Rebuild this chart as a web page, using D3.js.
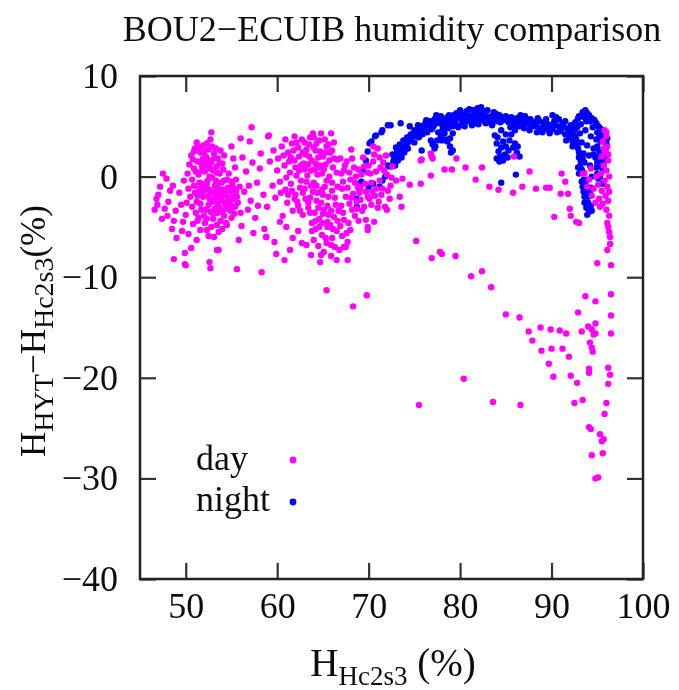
<!DOCTYPE html>
<html>
<head>
  <meta charset="UTF-8">
  <title>BOU2-ECUIB humidity comparison</title>
  <script src="https://d3js.org/d3.v7.min.js"></script>
  <style>
    body { margin: 0; background: #fff; }
    text { font-family: "Liberation Serif", "DejaVu Serif", serif; fill: #111; }
  </style>
</head>
<body>
<svg id="chart"></svg>
<script>
// ---- data: [H_Hc2s3 (%), H_HYT - H_Hc2s3 (%)] ----
const dayPoints = [
  // left cloud around 47-59 %
  [47.5,0.3],[47.2,-1.0],[48.6,-0.9],[46.8,-2.2],[46.6,-3.3],[47.7,-3.2],[48.5,-5.2],[49.7,-4.5],[50.3,-5.7],[51.2,-6.3],
  [49.9,-7.6],[50.6,-7.1],[52.6,-8.5],[53.6,-7.3],[53.6,-5.5],[52.3,-5.3],[54.5,-4.8],[47.0,-1.8],[48.1,-2.5],[47.4,-4.2],
  [48.9,-3.4],[49.3,-1.6],[48.0,-3.9],[49.0,-6.1],[47.9,-0.2],[46.9,-2.8],[49.5,-2.8],[48.3,-1.4],[50.0,-8.8],[48.7,-8.2],
  [49.9,-8.7],[52.7,-9.1],[53.4,-7.3],[55.6,-9.2],[58.3,-9.5],
  [50.6,2.1],[51.0,2.8],[51.3,1.5],[51.6,2.4],[51.9,3.1],[52.2,2.0],[52.5,2.7],[52.8,1.4],[53.1,2.3],[53.4,1.0],
  [50.9,0.8],[51.4,0.2],[51.8,1.0],[52.1,0.5],[52.6,0.0],[53.0,0.6],[53.5,1.8],[50.4,1.2],[50.7,-0.3],[52.3,3.3],
  [51.2,3.4],[53.8,2.6],[52.9,3.0],[54.0,1.3],[50.2,0.3],[51.5,-0.6],[52.4,1.1],[53.3,-0.4],[50.8,1.7],[51.9,1.8],
  [53.7,0.3],[54.2,2.1],
  [51.5,-1.2],[51.9,-2.0],[52.2,-1.0],[52.5,-2.8],[52.8,-1.6],[53.1,-2.4],[53.4,-0.8],[53.7,-3.1],[54.0,-1.9],[54.3,-2.7],
  [54.6,-1.1],[54.9,-3.4],[55.2,-2.2],[55.5,-1.5],[51.7,-3.3],[52.0,-3.9],[52.4,-0.4],[52.7,-3.5],[53.0,-4.2],[53.3,-1.4],
  [53.6,-2.0],[53.9,-0.6],[54.2,-3.9],[54.5,-0.3],[54.8,-2.4],[55.1,-0.8],[55.4,-3.0],[55.7,-2.6],[51.2,-2.5],[51.0,-1.6],
  [50.7,-3.0],[50.5,-2.0],[53.2,-3.2],[53.8,-4.4],[54.4,-4.6],[52.1,-4.6],[51.4,-4.1],[52.9,-0.1],[54.1,-1.3],[55.0,-4.1],
  [52.6,-2.2],[53.5,-2.7],[54.7,-3.0],[51.8,-0.7],[55.9,-1.0],[56.0,-3.6],[50.8,-4.7],[51.6,-5.3],[53.1,-6.0],[52.5,-5.9],
  [50.9,-0.9],[51.1,0.5],[51.3,-1.9],[51.6,-2.7],[51.8,0.6],[52.0,-1.4],[52.0,2.5],[52.2,-3.3],[52.3,-0.7],[52.4,1.7],
  [52.6,-1.3],[52.7,0.8],[52.9,-2.5],[53.0,-3.7],[53.1,1.8],[53.2,-0.9],[53.3,-2.0],[53.4,0.4],[53.5,-3.6],[53.6,-1.2],
  [53.7,1.3],[53.9,-2.4],[54.0,-3.5],[54.1,0.7],[54.2,-0.4],[54.3,-1.7],[54.4,-3.2],[54.6,-2.1],[54.7,0.3],[54.8,-1.4],
  [54.9,-2.8],[55.0,-0.5],[55.1,-1.7],[55.3,-3.7],[55.5,-0.3],[55.6,-2.0],[51.1,-3.6],[51.3,-4.4],[52.3,-4.2],[53.4,-4.8],
  [54.0,-5.2],[52.8,-5.0],[51.7,1.3],[52.1,1.4],[51.4,2.9],[52.7,3.7],[53.3,2.8],[50.9,2.5],[51.7,-1.5],[52.5,-1.9],
  [53.8,-1.6],[54.5,-2.5],[55.3,-1.2],[50.3,-1.2],[50.1,-2.6],[49.8,-0.4],[50.0,-3.8],[49.6,-5.4],[48.7,-4.4],
  [52.8,4.4],[57.2,4.9],[59.0,4.0],[57.0,3.5],[55.0,3.0],[56.2,1.9],[56.6,0.5],[57.3,1.4],[57.8,-0.6],[58.2,2.3],
  [56.4,-1.5],[57.1,-2.4],[58.5,-1.8],[56.8,-3.3],[57.6,-4.1],[58.9,-3.0],[56.1,-4.9],[57.4,-5.6],[58.6,-5.2],[55.8,-6.3],
  [58.1,0.8],[59.2,1.5],[59.5,-0.9],[56.9,-0.9],[58.8,-6.0],[55.4,0.9],[55.2,1.8],[56.0,3.8],[57.9,-2.9],
  // middle cloud around 60-68 %
  [59.1,4.1],[61.9,4.0],[63.9,4.3],[64.8,4.3],[65.9,4.3],[60.5,3.0],[61.2,2.4],[61.6,3.3],[62.3,2.9],[62.7,3.7],
  [63.1,2.2],[63.5,3.2],[64.2,2.6],[64.6,3.6],[65.0,2.0],[65.4,3.0],[65.8,2.4],[66.2,3.4],[66.6,1.7],[60.1,1.8],
  [60.8,1.1],[61.4,0.4],[61.9,1.6],[62.4,0.6],[62.9,1.3],[63.3,0.1],[63.8,1.6],[64.1,0.7],[64.5,1.9],[64.9,0.3],
  [65.3,1.2],[65.7,0.0],[66.1,0.9],[60.3,-0.5],[60.9,-1.3],[61.5,-0.7],[62.0,-1.8],[62.6,-0.4],[63.0,-1.2],[63.6,-2.1],
  [64.0,-0.6],[64.4,-1.6],[64.8,-2.6],[65.2,-1.0],[65.6,-2.0],[66.0,-1.4],[66.4,-2.8],[61.1,-2.6],[61.7,-3.4],[62.3,-2.9],
  [62.8,-3.8],[63.4,-3.1],[64.1,-3.6],[64.6,-4.2],[65.1,-3.3],[65.5,-4.5],[66.2,-4.0],[66.7,-3.4],[60.6,-3.9],[59.8,-2.1],
  [60.0,0.6],[59.6,2.6],[63.2,2.7],[64.3,-2.4],[62.1,3.4],[64.0,3.9],[65.2,3.7],[63.0,0.7],[64.7,1.1],[62.5,-1.1],
  [63.7,-0.9],[65.0,-1.8],[64.4,0.2],[63.4,1.2],
  [60.7,2.1],[61.0,-0.1],[61.3,1.5],[61.6,-1.4],[61.8,2.6],[62.1,0.1],[62.2,-2.5],[62.4,2.0],[62.6,1.1],[62.8,-1.6],
  [63.0,3.4],[63.2,-0.5],[63.4,-2.6],[63.5,2.0],[63.7,0.6],[63.9,-1.5],[64.0,2.9],[64.2,1.3],[64.3,-0.9],[64.5,-3.1],
  [64.6,0.9],[64.7,2.5],[64.9,-1.3],[65.0,-3.7],[65.1,0.7],[65.3,2.4],[65.4,-0.4],[65.5,-2.9],[65.7,1.6],[65.9,-3.4],
  [66.0,-0.6],[66.2,1.8],[66.3,-2.1],[66.5,0.4],[66.6,-1.0],[61.2,-1.8],[61.9,-2.2],[62.5,-3.4],[63.1,-2.2],[63.6,-3.6],
  [64.2,-4.4],[64.9,-4.6],[65.6,-3.8],[66.1,-5.2],[66.6,-4.4],[63.8,-5.4],[64.6,-5.0],[65.3,-6.1],[65.9,-6.8],[66.3,-7.0],
  [64.8,-7.8],[60.4,-1.6],[60.9,3.7],[61.5,1.9],[62.0,0.9],[62.8,2.4],[63.6,3.9],[64.3,3.3],[65.6,3.2],[66.0,2.6],
  [63.7,-7.8],[64.7,-8.5],[66.5,-8.3],[67.7,-8.3],[67.7,-6.5],[66.8,-7.3],[65.4,-6.6],[63.2,-6.8],[64.2,-5.2],[64.9,-5.8],
  [65.5,-5.0],[66.0,-6.1],[66.5,-5.4],[67.1,-5.9],[64.5,-6.9],[65.1,-7.5],[65.9,-7.9],[66.9,-4.9],[67.3,-7.0],[63.8,-4.6],
  [64.0,-6.3],[65.8,-4.8],[58.8,-6.0],[59.7,-6.5],[61.0,-5.0],[61.7,-6.1],[65.4,-11.3],[60.3,-4.5],[62.3,-5.4],[62.7,-6.6],
  [61.4,-7.3],[59.9,-7.7],[60.8,-8.3],[68.3,-12.9],[69.8,-11.8],
  // cloud around 67-73 %
  [68.1,2.7],[66.9,1.8],[67.3,0.6],[67.6,1.5],[68.0,-0.3],[68.4,0.9],[68.8,-1.0],[69.2,0.2],[69.6,-0.7],[70.0,1.1],
  [70.4,-1.5],[70.8,0.5],[71.2,-0.4],[71.6,1.4],[72.0,0.2],[72.4,-0.9],[67.1,-1.2],[67.5,-2.0],[67.9,-2.7],[68.3,-1.7],
  [68.7,-3.2],[69.1,-2.3],[69.5,-3.0],[69.9,-2.0],[70.3,-2.8],[70.7,-1.9],[71.1,-2.5],[71.5,-1.2],[67.2,-3.6],[68.5,-3.9],
  [69.7,-4.3],[69.9,-5.0],[67.0,-2.9],[70.6,2.2],[71.0,2.8],[71.9,2.1],[72.6,1.0],[73.0,-0.4],[72.3,-2.2],[71.8,-3.0],
  [70.5,3.0],[69.4,1.9],[73.7,-0.2],[73.4,-2.0],[74.5,-0.8],[75.7,-0.7],[73.6,-3.0],[72.0,-3.3],[70.6,-4.5],[69.9,-5.3],
  [67.6,-5.6],[67.5,-7.0],[68.6,0.0],[69.0,-1.6],[70.2,0.3],[71.3,0.9],
  [67.0,0.3],[67.2,-0.5],[67.4,1.1],[67.7,-1.1],[67.9,0.4],[68.1,-2.1],[68.2,1.8],[68.5,-0.6],[68.7,-2.5],[68.9,0.7],
  [69.1,-1.1],[69.3,-3.4],[69.5,1.0],[69.7,-1.5],[69.9,0.4],[70.1,-2.2],[70.3,-0.6],[70.5,1.5],[70.8,-1.2],[71.0,-3.1],
  [71.2,1.9],[71.4,-1.8],[71.7,0.6],[72.1,-1.4],[72.5,-0.1],[67.3,-4.3],[67.8,-4.6],[68.2,-3.3],[68.0,-5.3],[68.9,-4.4],
  // scattered points 73-93 %
  [75.8,1.7],[76.9,2.0],[79.6,1.8],[78.3,0.7],[79.1,0.7],[80.6,0.9],[82.4,0.9],[81.7,-0.3],[83.2,-1.0],[84.2,-1.3],
  [85.8,-1.6],[86.8,-1.0],[85.9,2.0],[87.6,0.5],[88.3,-1.2],[89.4,-1.1],[89.8,-1.1],[91.1,0.3],[91.5,-0.5],[91.0,-1.7],
  [91.8,-1.7],[92.0,-3.2],[92.1,-3.9],[92.7,-4.5],[93.0,-4.6],[90.3,-4.0],[76.8,2.3],[77.0,1.8],[75.7,1.6],[76.8,0.1],
  [75.2,-6.4],[76.9,-8.1],[77.8,-7.5],[78.0,-7.7],[79.5,-7.9],[81.2,-9.9],[82.4,-9.4],[83.4,-11.0],[85.0,-13.7],[86.5,-14.0],
  [87.5,-15.4],[87.9,-16.3],[88.8,-15.0],[89.9,-15.2],[90.9,-15.3],[91.6,-15.6],[88.9,-17.3],[90.0,-17.1],[91.2,-17.1],[91.9,-17.9],
  [89.7,-18.6],[90.2,-19.9],[92.1,-19.8],[92.8,-20.5],[92.9,-13.5],[93.7,-11.9],[94.8,-12.4],[95.0,-8.6],[80.4,-20.1],[75.5,-22.7],
  [83.6,-22.4],[86.6,-22.7],[92.5,-22.5],[93.4,-22.2],[94.1,-24.9],[94.3,-25.1],[95.3,-25.6],[95.5,-26.3],[95.7,-26.1],[95.6,-27.5],
  [94.4,-27.7],[94.8,-30.0],[95.1,-29.9],[93.3,-15.4],[94.0,-14.9],[94.4,-15.2],[94.6,-15.7],[94.8,-15.6],[94.8,-14.6],[94.2,-16.5],
  [94.4,-17.0],[94.5,-17.4],[94.1,-19.1],[94.1,-19.5],
  // near-saturation strip 93-96.5 %
  [96.4,-6.7],[96.5,-8.8],[96.5,-11.7],[96.5,-13.8],[96.5,-15.6],[96.2,-19.0],[96.4,-19.7],[96.2,-20.6],[96.0,-22.5],[95.8,-23.6],
  [96.1,-4.6],[96.3,-5.5],[96.2,-5.0],[96.4,-6.0],[95.8,4.6],[96.0,4.0],[95.6,3.5],[96.1,3.0],[95.9,2.4],[95.5,2.0],
  [96.2,1.6],[95.7,1.1],[96.0,0.6],[95.4,0.3],[96.3,0.0],[95.8,-0.4],[95.1,-0.8],[96.1,-1.0],[95.5,-1.4],[94.6,-1.2],
  [94.1,-0.3],[93.6,0.3],[94.9,0.0],[95.9,-1.9],[95.2,-2.2],[94.4,-1.9],[93.9,-1.0],[95.6,-2.7],[96.2,-2.4],[96.0,-3.3],
  [96.3,-3.9],[95.3,-3.0],[94.8,-2.6],[96.1,-7.3],[93.4,0.3],[94.3,0.8],[96.0,4.4],[95.7,2.8],[96.2,2.2],[96.3,-1.5]
];

const nightPoints = [
  // rising branch and upper sparse track
  [68.7,-3.0],[68.7,-2.2],[69.0,-1.3],[69.2,-0.5],[69.4,0.6],[69.7,1.6],[69.9,2.5],[70.1,3.3],[70.7,4.0],[71.4,4.4],
  [72.1,5.1],[70.3,3.5],[70.8,4.1],[71.5,4.6],[72.4,5.1],[73.5,5.3],[74.5,5.0],[75.4,5.1],[76.3,5.6],[77.4,6.1],
  [77.9,6.0],[70.0,-1.0],[71.2,-1.0],[71.8,0.0],[72.1,1.1],[70.5,-0.7],[71.5,-0.4],
  // main band 72-77 %
  [72.3,1.0],[72.7,1.5],[73.0,2.0],[73.3,2.3],[73.7,2.8],[74.1,3.2],[74.5,3.6],[74.9,4.0],[75.2,4.3],[75.6,4.5],
  [76.1,4.8],[76.5,5.0],[77.0,5.3],[72.6,2.2],[73.0,2.9],[73.4,3.2],[73.8,3.6],[74.2,3.9],[74.6,4.2],[75.0,4.6],
  [75.4,4.8],[75.8,5.0],[76.2,5.3],[76.7,5.5],[77.2,5.7],[73.2,1.6],[73.9,2.4],[74.3,2.8],[75.0,3.4],[75.5,3.9],
  [75.9,4.2],[76.4,4.4],[76.9,4.7],[72.9,1.1],[73.6,1.9],
  [72.8,1.8],[73.1,2.5],[73.5,2.6],[73.9,3.0],[74.3,3.4],[74.7,3.8],[75.1,4.1],[75.5,4.3],[75.9,4.6],[76.3,4.9],
  [76.7,5.1],[77.1,5.0],[77.4,5.3],[77.8,5.4],
  [76.8,3.6],[77.0,3.2],[77.2,2.8],[75.8,2.6],[77.9,4.0],[78.3,4.3],[78.6,3.5],[78.9,3.0],[79.2,2.6],[79.0,2.4],
  [78.4,3.7],[77.5,3.6],[78.9,3.8],[79.2,4.3],[77.6,4.4],[77.3,3.0],[78.0,3.6],
  // band 77-84 %
  [77.6,5.5],[78.0,5.2],[78.3,5.6],[78.6,5.9],[79.0,5.4],[79.2,5.0],[79.4,5.6],[79.6,6.3],[79.9,5.8],[80.2,5.2],
  [80.4,6.1],[80.7,6.5],[80.9,5.5],[81.1,6.0],[81.4,6.6],[81.6,5.3],[81.8,5.8],[82.1,6.3],[82.3,6.9],[82.5,5.6],
  [82.7,6.1],[83.0,6.6],[83.2,5.4],[83.4,6.0],[83.7,6.4],[83.9,5.5],[84.2,5.9],[78.1,4.7],[79.8,4.9],[80.5,5.0],
  [81.3,5.1],[82.0,5.2],[82.8,5.3],[83.5,5.1],[78.8,6.1],[80.0,6.6],[81.0,6.7],[81.9,6.8],[80.6,5.7],[82.4,5.9],
  [79.3,6.1],[81.5,6.2],
  [78.2,5.1],[78.5,5.3],[78.7,4.8],[79.1,5.7],[79.5,5.3],[79.9,6.2],[80.3,5.5],[80.8,6.1],[81.2,5.6],[81.7,6.4],
  [82.2,5.7],[82.6,6.5],[83.1,5.9],[83.6,5.7],[84.0,6.2],
  [83.8,4.1],[84.0,3.3],[84.2,2.5],[84.4,2.0],[84.5,2.9],[85.0,3.0],[84.5,4.6],[85.0,4.2],[85.4,3.6],[85.8,2.9],
  [86.2,2.4],[84.9,2.2],[85.2,1.9],[84.7,1.6],[86.1,0.2],[84.5,-0.6],[84.0,1.8],[84.3,1.5],[86.5,2.0],[86.0,3.3],
  [84.1,3.9],[84.7,3.5],[85.3,2.6],[85.6,4.2],[86.3,3.0],
  // band 84-92 %
  [84.3,6.1],[84.7,5.6],[85.0,6.0],[85.3,5.4],[85.6,5.9],[85.9,5.3],[86.2,5.8],[86.5,5.0],[86.8,5.6],[87.1,6.0],
  [87.4,5.2],[87.7,5.7],[87.9,5.0],[88.2,5.4],[88.5,5.8],[88.8,4.8],[89.1,5.3],[89.4,5.7],[89.7,4.6],[90.0,5.1],
  [90.3,5.5],[90.6,4.4],[90.9,4.9],[91.2,5.3],[91.5,4.2],[91.8,4.7],[92.1,5.1],[92.3,3.5],[92.0,3.9],[91.6,3.6],
  [90.1,6.1],[89.0,4.4],[87.0,4.8],[86.0,4.6],[88.4,4.4],[90.5,5.9],[86.6,6.1],[89.8,4.3],[92.3,3.0],[85.5,4.9],
  [87.6,4.6],
  [84.4,5.4],[84.8,5.9],[85.2,5.6],[85.7,5.4],[86.1,5.1],[86.4,5.6],[86.9,5.2],[87.3,5.7],[87.8,5.3],[88.3,5.0],
  [88.7,5.5],[89.2,4.8],[89.6,5.2],[90.1,4.7],[90.5,5.1],[91.0,4.5],[91.4,4.9],[91.9,4.3],[92.2,4.4],[90.8,5.7],
  [91.5,5.5],
  // hook near saturation
  [93.4,6.4],[94.1,6.1],[93.0,6.0],[93.7,6.6],[94.4,5.8],[94.9,5.3],[95.3,4.8],[95.6,4.3],[96.0,3.3],[92.6,5.4],
  [93.2,5.2],[93.8,5.5],[94.5,4.9],[95.0,4.4],[92.5,4.6],[93.1,4.3],[93.7,4.6],[94.3,4.0],[94.9,3.7],[95.4,3.5],
  [92.7,3.7],[93.3,3.4],[93.9,3.1],[94.6,2.8],[95.2,2.6],[92.9,2.8],[93.5,2.3],[94.1,2.1],[94.8,1.9],[95.5,1.6],
  [93.0,1.9],[93.6,1.4],[94.2,1.1],[94.9,0.9],[95.6,-0.7],[93.1,1.0],[93.5,0.4],[93.9,-0.3],[94.4,0.0],[95.1,-0.2],
  [93.3,-0.5],[93.7,-1.2],[94.2,-1.6],[93.6,-2.0],[94.0,-2.6],[93.8,-3.1],[94.1,-3.5],[93.6,-2.6],[94.3,-2.9],[93.0,0.3],
  [93.4,-1.0],[96.1,3.8],[95.9,2.7],[95.7,2.0],[95.4,1.0],[95.0,0.3],
  [92.4,5.0],[92.8,4.9],[92.9,5.8],[93.3,6.0],[93.6,5.9],[93.9,6.3],[94.2,5.5],[94.7,5.6],[95.1,5.0],[95.5,4.6],
  [92.6,4.0],[92.8,3.2],[93.0,2.4],[93.2,1.5],[93.3,0.7],[92.4,3.3],[95.8,3.8],[95.2,3.9],[95.0,3.0],[95.3,2.2],
  [95.0,1.4],[94.6,2.2],[95.7,1.2],[95.9,1.7],[95.6,0.6],[95.3,0.0],[93.5,-0.3],[93.8,-1.7],[94.0,-2.0],[94.4,-3.4],
  [93.9,-3.8],[93.5,-1.5],[94.3,-1.1],[93.7,-0.6],[92.9,0.9],[93.4,1.8]
];

const xTicks = [50, 60, 70, 80, 90, 100];
const yTicks = [-40, -30, -20, -10, 0, 10];
const seriesNames = ["day", "night"];
const seriesColors = ["#ff00ff", "#0000ff"];

// ---- layout ----
const width = 679, height = 690;
const plotLeft = 140, plotRight = 643, plotTop = 76, plotBottom = 579;

const svg = d3.select("#chart")
  .attr("width", width)
  .attr("height", height);

const defs = svg.append("defs");
defs.append("filter").attr("id", "soft")
  .append("feGaussianBlur").attr("stdDeviation", 0.45);

const x = d3.scaleLinear().domain([45, 100]).range([plotLeft, plotRight]);
const y = d3.scaleLinear().domain([-40, 10]).range([plotBottom, plotTop]);

const g = svg.append("g").attr("filter", "url(#soft)");

// title
g.append("text")
  .attr("x", 392).attr("y", 41)
  .attr("text-anchor", "middle")
  .style("font-size", "36px")
  .text("BOU2\u2212ECUIB humidity comparison");

// points: night first, day drawn on top
g.append("g").selectAll("circle")
  .data(nightPoints)
  .enter().append("circle")
    .attr("cx", d => x(d[0]))
    .attr("cy", d => y(d[1]))
    .attr("r", 3.2)
    .attr("fill", seriesColors[1]);

g.append("g").selectAll("circle")
  .data(dayPoints)
  .enter().append("circle")
    .attr("cx", d => x(d[0]))
    .attr("cy", d => y(d[1]))
    .attr("r", 3.2)
    .attr("fill", seriesColors[0]);

// axes with inward ticks on all four sides
const fmt = d3.format("d");
const tickStyle = sel => {
  sel.select(".domain").remove();
  sel.selectAll(".tick line").attr("stroke", "#333").attr("stroke-width", 2.2);
  sel.selectAll(".tick text").attr("fill", "#111")
    .style("font-family", '"Liberation Serif", serif').style("font-size", "36px");
};

g.append("g").attr("transform", `translate(0,${plotBottom})`)
  .call(d3.axisBottom(x).tickValues(xTicks).tickFormat(fmt).tickSizeInner(-16).tickSizeOuter(0).tickPadding(13))
  .call(tickStyle);

g.append("g").attr("transform", `translate(0,${plotTop})`)
  .call(d3.axisTop(x).tickValues(xTicks).tickFormat("").tickSizeInner(-16).tickSizeOuter(0))
  .call(tickStyle);

g.append("g").attr("transform", `translate(${plotLeft},0)`)
  .call(d3.axisLeft(y).tickValues(yTicks).tickFormat(fmt).tickSizeInner(-16).tickSizeOuter(0).tickPadding(22))
  .call(tickStyle);

g.append("g").attr("transform", `translate(${plotRight},0)`)
  .call(d3.axisRight(y).tickValues(yTicks).tickFormat("").tickSizeInner(-16).tickSizeOuter(0))
  .call(tickStyle);

// frame
g.append("rect")
  .attr("x", plotLeft).attr("y", plotTop)
  .attr("width", plotRight - plotLeft).attr("height", plotBottom - plotTop)
  .attr("fill", "none").attr("stroke", "#222").attr("stroke-width", 2.5);

// x label: H_Hc2s3 (%)
const xl = g.append("text")
  .attr("x", 393).attr("y", 676)
  .attr("text-anchor", "middle")
  .style("font-size", "39px");
xl.append("tspan").text("H");
xl.append("tspan").attr("dy", 9).style("font-size", "27px").text("Hc2s3");
xl.append("tspan").attr("dy", -9).text(" (%)");

// y label: H_HYT - H_Hc2s3 (%)
const yl = g.append("text")
  .attr("transform", "translate(45,331) rotate(-90)")
  .attr("text-anchor", "middle")
  .style("font-size", "35px");
yl.append("tspan").text("H");
yl.append("tspan").attr("dy", 8).style("font-size", "28px").text("HYT");
yl.append("tspan").attr("dy", -8).text("\u2212H");
yl.append("tspan").attr("dy", 8).style("font-size", "28px").text("Hc2s3");
yl.append("tspan").attr("dy", -8).text("(%)");

// legend
const legend = g.append("g");
seriesNames.forEach((name, i) => {
  legend.append("text")
    .attr("x", 196).attr("y", 470 + i * 41)
    .style("font-size", "36px")
    .text(name);
  legend.append("circle")
    .attr("cx", 293).attr("cy", 460 + i * 42)
    .attr("r", 3.4)
    .attr("fill", seriesColors[i]);
});
</script>
</body>
</html>
